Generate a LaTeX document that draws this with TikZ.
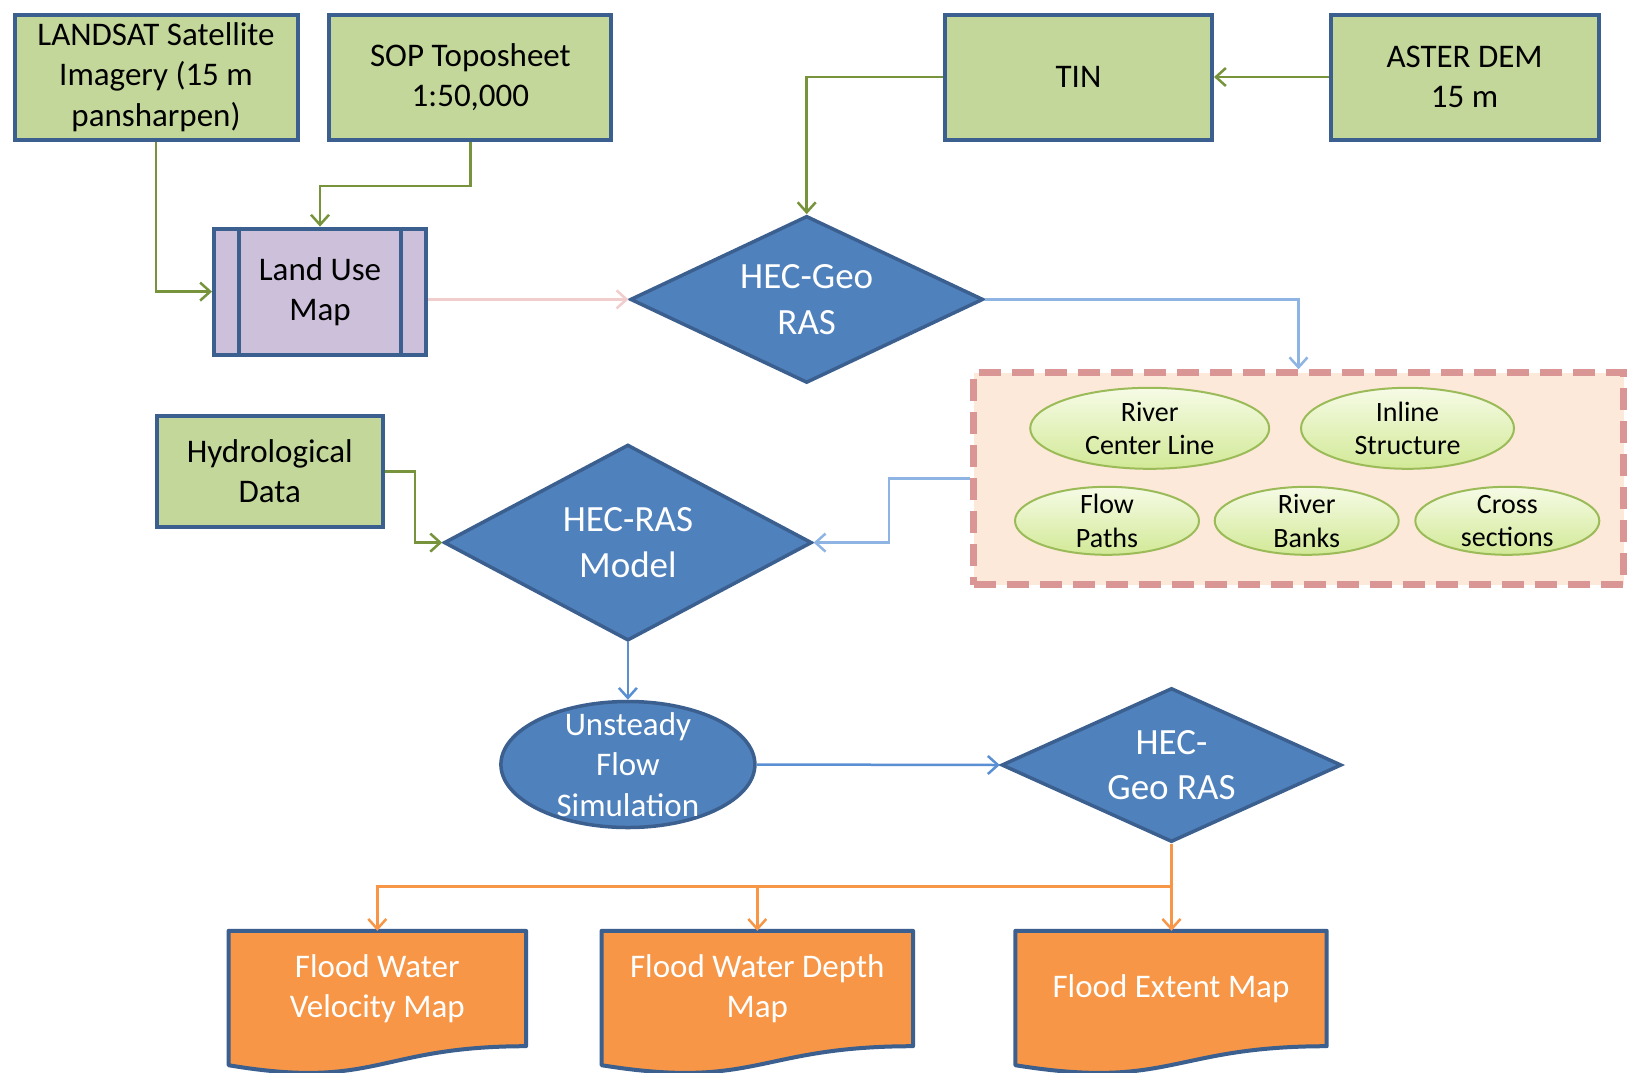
\documentclass[tikz,border=0pt]{standalone}
\usepackage{fontspec}
\setmainfont{Carlito}
\usetikzlibrary{shapes.geometric,arrows.meta,calc,backgrounds}
\definecolor{boxgreen}{HTML}{C4D79B}
\definecolor{boxedge}{HTML}{3B5F8E}
\definecolor{lavender}{HTML}{CCC0DA}
\definecolor{hecblue}{HTML}{4F81BD}
\definecolor{peach}{HTML}{FDE9D9}
\definecolor{dashpink}{HTML}{D99694}
\definecolor{leafedge}{HTML}{9BBB59}
\definecolor{leaftop}{HTML}{F6FBE6}
\definecolor{leafbot}{HTML}{D2E996}
\definecolor{mapfill}{HTML}{F79646}
\definecolor{arrgreen}{HTML}{77933C}
\definecolor{arrpale}{HTML}{F2CDCD}
\definecolor{arrlight}{HTML}{8DB4E2}
\definecolor{arrblue}{HTML}{5B8FD3}
\definecolor{arrorange}{HTML}{F79646}
\tikzset{
  txt/.style={font=\fontsize{33}{40.5}\selectfont, align=center},
  srcbox/.style={txt, draw=boxedge, line width=4pt, fill=boxgreen, minimum height=125pt, inner sep=0pt},
  hecdia/.style={diamond, draw=boxedge, line width=3.5pt, fill=hecblue, text=white,
    font=\fontsize{37}{45.7}\selectfont, align=center, inner sep=0pt},
  leaf/.style={ellipse, draw=leafedge, line width=2pt, top color=leaftop, bottom color=leafbot, inner sep=0pt},
  leaftxt/.style={font=\fontsize{28}{33.5}\selectfont, align=center},
  mapdoc/.style={txt, text=white, minimum height=115pt, inner sep=0pt},
  link/.style={line width=2.5pt, -{Straight Barb[length=10pt,width=18pt]}},
}
\begin{document}
\begin{tikzpicture}[x=1pt,y=-1pt]
  \useasboundingbox (0,0) rectangle (1630,1072);
  % inputs
  \node[srcbox, minimum width=283pt] (landsat) at (156,77) {LANDSAT Satellite\\Imagery (15 m\\pansharpen)};
  \node[srcbox, minimum width=282pt] (sop) at (470.4,77) {SOP Toposheet\\1:50,000};
  \node[srcbox, minimum width=267pt] (tin) at (1078.5,77) {TIN};
  \node[srcbox, minimum width=268pt] (aster) at (1464.6,77) {ASTER DEM\\15 m};
  \node[srcbox, fill=lavender, minimum width=212pt, minimum height=126pt] (landuse) at (320,291.6) {Land Use\\Map};
  \draw[boxedge, line width=4pt] ([xshift=27pt]landuse.north west) -- ([xshift=27pt]landuse.south west)
    ([xshift=-27pt]landuse.north east) -- ([xshift=-27pt]landuse.south east);
  \node[hecdia, minimum width=353pt, minimum height=167pt, aspect=2.1] (geo) at (806.7,299.4) {HEC-Geo\\RAS};
  % geo-ras layers
  \node[draw=dashpink, fill=peach, line width=7pt, dash pattern=on 22pt off 11pt,
    minimum width=650pt, minimum height=212pt] (layers) at (1298.5,478.7) {};
  \node[leaf, minimum width=239pt, minimum height=81pt] (rcl) at (1149.7,428.3) {};
  \node[leaftxt] at (rcl) {River\\Center Line};
  \node[leaf, minimum width=213pt, minimum height=81pt] (inl) at (1407.5,428.3) {};
  \node[leaftxt] at (inl) {Inline\\Structure};
  \node[leaf, minimum width=184pt, minimum height=68pt] (fpath) at (1107,520.8) {};
  \node[leaftxt] at (fpath) {Flow\\Paths};
  \node[leaf, minimum width=184pt, minimum height=68pt] (bank) at (1306.7,520.8) {};
  \node[leaftxt] at (bank) {River\\Banks};
  \node[leaf, minimum width=184pt, minimum height=68pt] (xsec) at (1507.3,520.8) {};
  \node[leaftxt] at (xsec) {Cross\\sections};
  % model
  \node[srcbox, minimum width=226pt, minimum height=111pt] (hydro) at (269.8,471.4) {Hydrological\\Data};
  \node[hecdia, minimum width=368pt, minimum height=196pt, aspect=1.9] (hecras) at (627.9,542.6) {HEC-RAS\\Model};
  \node[ellipse, draw=boxedge, line width=3.5pt, fill=hecblue, minimum width=254pt, minimum height=126pt] (sim) at (627.9,764.5) {};
  \node[txt, text=white] at (sim) {Unsteady\\Flow\\Simulation};
  \node[hecdia, minimum width=340pt, minimum height=154pt, aspect=2.2] (geo2) at (1171.5,765) {HEC-\\Geo RAS};
  % outputs
  \node[mapdoc, minimum width=297pt] (velmap) at (377.3,988.5) {Flood Water\\Velocity Map};
  \node[mapdoc, minimum width=311pt] (depmap) at (757.3,988.5) {Flood Water Depth\\Map};
  \node[mapdoc, minimum width=311pt] (extmap) at (1171,988.5) {Flood Extent Map};
  \begin{pgfonlayer}{background}
    \fill[white] (0,0) rectangle (1630,1072);
    \foreach \m in {velmap,depmap,extmap}
      \filldraw[draw=boxedge, fill=mapfill, line width=4pt, line join=round]
        (\m.north west) -- (\m.north east) -- (\m.south east)
        .. controls (\m.south) and ($(\m.south)+(0,44)$) .. ($(\m.south west)+(0,19)$) -- cycle;
  \end{pgfonlayer}
  % connectors
  \draw[link, arrgreen] (landsat.south) |- (landuse.west);
  \draw[link, arrgreen] (sop.south) -- ++(0,44.5) -| (landuse.north);
  \draw[link, arrpale] (landuse.east |- geo.west) -- (geo.west);
  \draw[link, arrgreen] (aster.west) -- (tin.east);
  \draw[link, arrgreen] (tin.west) -| (geo.north);
  \draw[link, arrlight] (geo.east) -| (layers.north);
  \draw[link, arrlight] (layers.west) -- ++(-81,0) |- (hecras.east);
  \draw[link, arrgreen] (hydro.east) -- ++(30,0) |- (hecras.west);
  \draw[link, arrblue] (hecras.south) -- (sim.north);
  \draw[link, arrblue] (sim.east) -- (geo2.west);
  \coordinate (bus) at (1171.5,886.7);
  \draw[link, arrorange] (geo2.south) -- (geo2.south |- extmap.north);
  \draw[link, arrorange] (bus) -| (velmap.north);
  \draw[link, arrorange] (bus) -| (depmap.north);
\end{tikzpicture}
\end{document}
